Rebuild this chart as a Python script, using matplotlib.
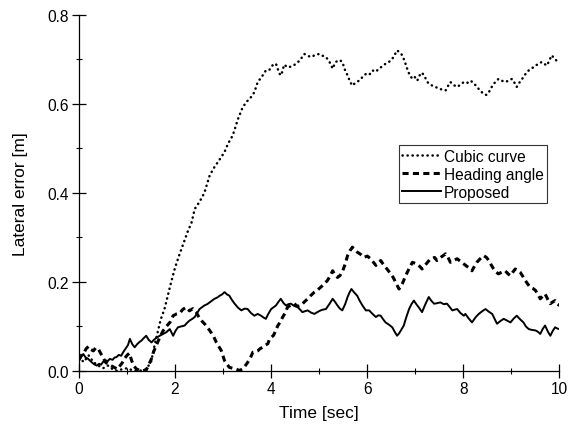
#!/usr/bin/env python3
"""
Lateral error vs time for three path tracking methods
"""

import matplotlib
matplotlib.use('Agg')
import matplotlib.pyplot as plt
from matplotlib.ticker import MultipleLocator

plt.rcParams['font.family'] = ['Liberation Sans', 'DejaVu Sans']

# Cubic curve
cubic_t = [0.0, 0.1, 0.2, 0.3, 0.4, 0.5, 0.6, 0.7, 0.8, 0.9, 1.0, 1.1, 1.2, 1.3, 1.4, 1.5, 1.6, 1.7, 1.78, 1.85,
           1.92, 2.0, 2.08, 2.16, 2.27, 2.34, 2.41, 2.51, 2.61, 2.72, 2.82, 2.96, 3.03, 3.10, 3.20, 3.31, 3.41,
           3.51, 3.58, 3.65, 3.72, 3.80, 3.89, 3.96, 4.04, 4.10, 4.17, 4.21, 4.27, 4.34, 4.43, 4.52, 4.60, 4.69,
           4.76, 4.83, 4.92, 5.0, 5.07, 5.14, 5.21, 5.28, 5.33, 5.38, 5.43, 5.48, 5.54, 5.59, 5.64, 5.69, 5.76,
           5.83, 5.90, 5.97, 6.04, 6.11, 6.18, 6.24, 6.31, 6.38, 6.45, 6.52, 6.57, 6.62, 6.67, 6.73, 6.78, 6.83,
           6.88, 6.94, 6.99, 7.04, 7.09, 7.14, 7.20, 7.25, 7.30, 7.35, 7.42, 7.49, 7.56, 7.63, 7.68, 7.73, 7.80,
           7.87, 7.94, 8.01, 8.08, 8.15, 8.22, 8.28, 8.35, 8.42, 8.48, 8.53, 8.58, 8.63, 8.68, 8.73, 8.80, 8.87,
           8.94, 9.01, 9.06, 9.11, 9.18, 9.25, 9.30, 9.36, 9.43, 9.50, 9.57, 9.63, 9.68, 9.74, 9.79, 9.84, 9.89,
           9.94, 10.0]
cubic_err = [0.03, 0.02, 0.035, 0.02, 0.012, 0.006, 0.012, 0.004, 0.0, 0.004, 0.006, 0.002, 0.0, 0.001, 0.004,
             0.02, 0.07, 0.115, 0.139, 0.169, 0.2, 0.232, 0.258, 0.282, 0.315, 0.332, 0.364, 0.38, 0.40, 0.439,
             0.458, 0.48, 0.492, 0.51, 0.529, 0.566, 0.593, 0.607, 0.615, 0.626, 0.649, 0.66, 0.675, 0.676, 0.688,
             0.69, 0.668, 0.664, 0.688, 0.682, 0.684, 0.69, 0.698, 0.712, 0.708, 0.705, 0.71, 0.712, 0.708, 0.705,
             0.695, 0.679, 0.692, 0.697, 0.698, 0.694, 0.675, 0.664, 0.65, 0.641, 0.648, 0.652, 0.66, 0.667, 0.665,
             0.675, 0.672, 0.679, 0.684, 0.69, 0.694, 0.701, 0.71, 0.72, 0.716, 0.709, 0.695, 0.679, 0.665, 0.656,
             0.66, 0.652, 0.664, 0.67, 0.66, 0.649, 0.644, 0.641, 0.638, 0.634, 0.632, 0.63, 0.64, 0.649, 0.642,
             0.638, 0.643, 0.649, 0.647, 0.652, 0.646, 0.638, 0.63, 0.622, 0.62, 0.626, 0.636, 0.645, 0.65, 0.656,
             0.652, 0.649, 0.652, 0.656, 0.648, 0.638, 0.65, 0.66, 0.668, 0.675, 0.68, 0.686, 0.69, 0.694, 0.69,
             0.686, 0.698, 0.709, 0.702, 0.697, 0.703]

# Heading angle
heading_t = [0.0, 0.05, 0.1, 0.15, 0.2, 0.25, 0.3, 0.35, 0.4, 0.45, 0.5, 0.55, 0.6, 0.7, 0.8, 0.9, 0.95, 1.0,
             1.05, 1.1, 1.15, 1.2, 1.3, 1.4, 1.5, 1.55, 1.61, 1.68, 1.75, 1.82, 1.9, 1.96, 2.03, 2.1, 2.16, 2.23,
             2.3, 2.37, 2.44, 2.5, 2.55, 2.62, 2.72, 2.8, 2.86, 2.91, 2.96, 3.03, 3.08, 3.13, 3.2, 3.27, 3.34, 3.4,
             3.45, 3.51, 3.57, 3.62, 3.67, 3.72, 3.77, 3.82, 3.88, 3.93, 3.97, 4.05, 4.14, 4.19, 4.24, 4.29, 4.34,
             4.41, 4.48, 4.55, 4.62, 4.69, 4.76, 4.83, 4.9, 4.97, 5.03, 5.1, 5.17, 5.22, 5.28, 5.33, 5.38, 5.43,
             5.48, 5.54, 5.59, 5.64, 5.69, 5.74, 5.79, 5.86, 5.93, 6.0, 6.07, 6.12, 6.18, 6.23, 6.28, 6.33, 6.38,
             6.44, 6.49, 6.54, 6.59, 6.66, 6.7, 6.73, 6.8, 6.87, 6.94, 6.99, 7.04, 7.09, 7.14, 7.2, 7.25, 7.3, 7.35,
             7.4, 7.45, 7.54, 7.63, 7.68, 7.73, 7.8, 7.87, 7.94, 8.01, 8.06, 8.11, 8.18, 8.23, 8.28, 8.35, 8.42,
             8.48, 8.53, 8.58, 8.63, 8.68, 8.73, 8.8, 8.87, 8.93, 8.98, 9.03, 9.08, 9.13, 9.18, 9.24, 9.29, 9.34,
             9.39, 9.45, 9.5, 9.55, 9.6, 9.65, 9.7, 9.76, 9.81, 9.86, 9.91, 9.96, 10.0]
heading_err = [0.025, 0.035, 0.04, 0.05, 0.055, 0.048, 0.045, 0.052, 0.05, 0.04, 0.03, 0.02, 0.015, 0.01, 0.004,
               0.018, 0.028, 0.035, 0.04, 0.022, 0.01, 0.004, 0.0, 0.002, 0.025, 0.042, 0.057, 0.075, 0.09, 0.1,
               0.11, 0.124, 0.128, 0.13, 0.138, 0.143, 0.135, 0.14, 0.132, 0.12, 0.113, 0.105, 0.091, 0.078, 0.064,
               0.055, 0.046, 0.023, 0.015, 0.008, 0.006, 0.004, 0.001, 0.004, 0.01, 0.019, 0.03, 0.042, 0.043,
               0.045, 0.05, 0.053, 0.058, 0.061, 0.072, 0.08, 0.102, 0.11, 0.121, 0.13, 0.143, 0.148, 0.151, 0.145,
               0.147, 0.155, 0.162, 0.17, 0.177, 0.182, 0.188, 0.195, 0.203, 0.212, 0.225, 0.215, 0.21, 0.214,
               0.222, 0.24, 0.259, 0.27, 0.278, 0.272, 0.267, 0.262, 0.255, 0.258, 0.252, 0.245, 0.237, 0.243,
               0.248, 0.24, 0.233, 0.225, 0.218, 0.21, 0.199, 0.184, 0.19, 0.196, 0.214, 0.23, 0.244, 0.242, 0.24,
               0.235, 0.229, 0.237, 0.244, 0.25, 0.252, 0.255, 0.248, 0.256, 0.263, 0.255, 0.244, 0.248, 0.252,
               0.246, 0.24, 0.236, 0.232, 0.225, 0.235, 0.244, 0.252, 0.259, 0.255, 0.248, 0.238, 0.229, 0.222,
               0.218, 0.222, 0.225, 0.218, 0.214, 0.222, 0.229, 0.226, 0.222, 0.212, 0.203, 0.195, 0.188, 0.185,
               0.181, 0.172, 0.162, 0.168, 0.173, 0.16, 0.151, 0.155, 0.158, 0.15, 0.147]

# Proposed
proposed_t = [0.0, 0.05, 0.09, 0.14, 0.18, 0.23, 0.28, 0.33, 0.37, 0.42, 0.46, 0.5, 0.55, 0.6, 0.64, 0.7, 0.74,
              0.78, 0.83, 0.88, 0.92, 0.97, 1.02, 1.06, 1.11, 1.16, 1.21, 1.26, 1.3, 1.35, 1.4, 1.45, 1.51, 1.56,
              1.62, 1.68, 1.75, 1.82, 1.89, 1.96, 2.01, 2.06, 2.13, 2.2, 2.25, 2.3, 2.36, 2.41, 2.46, 2.51, 2.56,
              2.61, 2.67, 2.72, 2.77, 2.82, 2.88, 2.93, 2.98, 3.03, 3.08, 3.13, 3.18, 3.24, 3.31, 3.38, 3.45, 3.51,
              3.58, 3.65, 3.72, 3.79, 3.84, 3.89, 3.94, 4.0, 4.05, 4.1, 4.15, 4.2, 4.26, 4.31, 4.36, 4.41, 4.48,
              4.55, 4.6, 4.65, 4.7, 4.76, 4.83, 4.9, 4.96, 5.03, 5.09, 5.14, 5.21, 5.28, 5.33, 5.38, 5.43, 5.48,
              5.54, 5.59, 5.63, 5.67, 5.73, 5.79, 5.84, 5.9, 5.97, 6.04, 6.11, 6.18, 6.23, 6.28, 6.33, 6.38, 6.45,
              6.52, 6.57, 6.62, 6.66, 6.7, 6.76, 6.81, 6.87, 6.92, 6.97, 7.02, 7.07, 7.14, 7.21, 7.28, 7.33, 7.39,
              7.45, 7.52, 7.59, 7.66, 7.72, 7.77, 7.83, 7.87, 7.94, 8.01, 8.04, 8.11, 8.18, 8.25, 8.32, 8.39, 8.46,
              8.53, 8.6, 8.65, 8.7, 8.77, 8.84, 8.91, 8.98, 9.05, 9.11, 9.18, 9.25, 9.3, 9.36, 9.43, 9.5, 9.55, 9.6,
              9.65, 9.7, 9.76, 9.81, 9.86, 9.91, 9.96, 10.0]
proposed_err = [0.023, 0.032, 0.038, 0.03, 0.028, 0.023, 0.018, 0.014, 0.012, 0.016, 0.014, 0.02, 0.024, 0.022,
                0.027, 0.025, 0.03, 0.031, 0.036, 0.034, 0.042, 0.05, 0.058, 0.072, 0.06, 0.053, 0.06, 0.065,
                0.068, 0.074, 0.079, 0.07, 0.064, 0.07, 0.075, 0.079, 0.083, 0.087, 0.094, 0.079, 0.09, 0.098,
                0.1, 0.102, 0.108, 0.113, 0.117, 0.121, 0.13, 0.139, 0.143, 0.147, 0.15, 0.154, 0.158, 0.162,
                0.165, 0.169, 0.172, 0.177, 0.172, 0.169, 0.16, 0.151, 0.142, 0.136, 0.14, 0.139, 0.13, 0.124,
                0.128, 0.124, 0.12, 0.117, 0.128, 0.139, 0.143, 0.147, 0.155, 0.162, 0.152, 0.147, 0.15, 0.151,
                0.146, 0.143, 0.138, 0.132, 0.134, 0.136, 0.131, 0.128, 0.132, 0.136, 0.138, 0.139, 0.15, 0.162,
                0.155, 0.147, 0.14, 0.136, 0.15, 0.166, 0.176, 0.184, 0.176, 0.169, 0.158, 0.147, 0.136, 0.136,
                0.128, 0.121, 0.125, 0.124, 0.116, 0.109, 0.104, 0.098, 0.088, 0.079, 0.084, 0.091, 0.102, 0.12,
                0.139, 0.15, 0.158, 0.15, 0.143, 0.132, 0.15, 0.166, 0.158, 0.151, 0.152, 0.154, 0.15, 0.151,
                0.143, 0.136, 0.138, 0.139, 0.13, 0.124, 0.128, 0.118, 0.109, 0.12, 0.128, 0.134, 0.139, 0.133,
                0.128, 0.117, 0.106, 0.112, 0.117, 0.113, 0.109, 0.118, 0.124, 0.116, 0.109, 0.1, 0.094, 0.092,
                0.091, 0.088, 0.083, 0.094, 0.102, 0.088, 0.079, 0.09, 0.098, 0.095, 0.094]


def plot_lateral_error():
    fig = plt.figure(figsize=(5.68, 4.27), dpi=100)
    ax = fig.add_axes([0.139, 0.129, 0.846, 0.834])

    # round-capped zero-length dashes give separate dots
    ax.plot(cubic_t, cubic_err, color='black', linewidth=1.8, linestyle=(0, (0.1, 1.9)),
            dash_capstyle='round', label='Cubic curve')
    ax.plot(heading_t, heading_err, color='black', linewidth=2.2, linestyle=(0, (2.0, 1.4)),
            label='Heading angle')
    ax.plot(proposed_t, proposed_err, color='black', linewidth=1.4, label='Proposed')

    ax.set_xlim(0, 10)
    ax.set_ylim(0, 0.8)
    ax.xaxis.set_major_locator(MultipleLocator(2))
    ax.xaxis.set_minor_locator(MultipleLocator(1))
    ax.yaxis.set_major_locator(MultipleLocator(0.2))
    ax.yaxis.set_minor_locator(MultipleLocator(0.1))
    ax.yaxis.set_major_formatter(plt.FormatStrFormatter('%.1f'))

    ax.spines['top'].set_visible(False)
    ax.spines['right'].set_visible(False)
    for side in ('left', 'bottom'):
        ax.spines[side].set_linewidth(0.9)

    ax.tick_params(which='major', direction='inout', length=10, width=0.9, labelsize=11.2, pad=2)
    ax.tick_params(which='minor', direction='inout', length=5, width=0.8)

    ax.set_xlabel('Time [sec]', fontsize=12.5, labelpad=7)
    ax.set_ylabel('Lateral error [m]', fontsize=12.5, labelpad=14)

    leg = ax.legend(loc='upper left', bbox_to_anchor=(0.666, 0.633), fontsize=11.2,
                    frameon=True, fancybox=False, handlelength=2.5, handletextpad=0.2,
                    labelspacing=0.2, borderpad=0.2, borderaxespad=0)
    leg.get_frame().set_edgecolor('black')
    leg.get_frame().set_linewidth(0.8)

    fig.savefig('out.png', dpi=100, facecolor='white')
    plt.close(fig)


if __name__ == "__main__":
    plot_lateral_error()
